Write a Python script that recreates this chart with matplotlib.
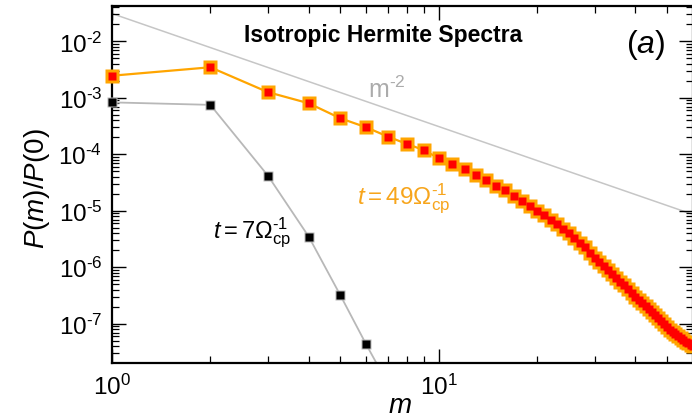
import matplotlib
matplotlib.use("Agg")
import numpy as np
import matplotlib.pyplot as plt
from matplotlib.ticker import FixedLocator, FuncFormatter, NullFormatter

plt.rcParams["font.family"] = ["Liberation Sans", "DejaVu Sans"]
plt.rcParams["mathtext.fontset"] = "custom"
plt.rcParams["mathtext.rm"] = "Liberation Sans"
plt.rcParams["mathtext.it"] = "Liberation Sans:italic"
plt.rcParams["mathtext.bf"] = "Liberation Sans:bold"

# Hermite spectrum at t = 7 / Omega_cp (early time)
m_early = [1, 2, 3, 4, 5, 6, 7]
p_early = [8.3e-4, 7.5e-4, 4.2e-5, 3.5e-6, 3.2e-7, 4.3e-8, 8.5e-9]

# Hermite spectrum at t = 49 / Omega_cp (late time)
m_late = list(range(1, 61))
p_late = [
    2.46e-3, 3.47e-3, 1.26e-3, 8.0e-4, 4.34e-4, 3.0e-4, 2.05e-4, 1.52e-4, 1.19e-4, 8.5e-5,
    6.7e-5, 5.4e-5, 4.3e-5, 3.55e-5, 2.8e-5, 2.3e-5, 1.86e-5, 1.48e-5, 1.2e-5, 1.0e-5,
    8.3e-6, 6.9e-6, 5.75e-6, 4.8e-6, 4.0e-6, 3.3e-6, 2.7e-6, 2.24e-6, 1.82e-6, 1.48e-6,
    1.26e-6, 1.05e-6, 8.9e-7, 7.6e-7, 6.5e-7, 5.6e-7, 4.8e-7, 4.1e-7, 3.5e-7, 3.0e-7,
    2.6e-7, 2.3e-7, 2.04e-7, 1.82e-7, 1.62e-7, 1.41e-7, 1.26e-7, 1.10e-7, 9.8e-8, 8.7e-8,
    7.9e-8, 7.2e-8, 6.6e-8, 6.0e-8, 5.5e-8, 5.1e-8, 4.8e-8, 4.5e-8, 4.2e-8, 4.0e-8,
]

# m^-2 reference slope, given by its two end points
guide_m = [1, 60]
guide_p = [0.031, 0.031 / 60**2]

# labelled decades
x_decades = [0, 1]
y_decades = [-7, -6, -5, -4, -3, -2]

x_range = (1, 60)
y_range = (10**-7.694, 10**-1.375)

fig = plt.figure(figsize=(6.92, 4.14), dpi=100)
ax = fig.add_axes([0.1618, 0.1208, 0.8396, 0.8623])
ax.set_xscale("log")
ax.set_yscale("log")
ax.set_xlim(*x_range)
ax.set_ylim(*y_range)

# reference power law
ax.plot(guide_m, guide_p, color="#c6c6c6", lw=1.1, zorder=1)

# early-time spectrum: grey halo squares under black squares
me = np.array(m_early)
pe = np.array(p_early)
ax.plot(me, pe, color="#b8b8b8", lw=1.3, zorder=2)
inside = pe >= y_range[0]
ax.plot(me[inside], pe[inside], ls="none", marker="s", ms=7.4, mfc="#b8b8b8",
        mec="none", clip_on=False, zorder=3)
ax.plot(me[inside], pe[inside], ls="none", marker="s", ms=5.2, mfc="black",
        mec="none", clip_on=False, zorder=3.5)

# late-time spectrum: orange halo squares under red squares
ml = np.array(m_late)
pl = np.array(p_late)
ax.plot(ml, pl, color="#ffa500", lw=1.6, zorder=4)
ax.plot(ml, pl, ls="none", marker="s", ms=9.6, mfc="#ffa500", mec="none",
        clip_on=False, zorder=5)
ax.plot(ml, pl, ls="none", marker="s", ms=6.4, mfc="#ff0000", mec="none",
        clip_on=False, zorder=6)

# axes styling
for side in ax.spines.values():
    side.set_linewidth(1.6)

def decade_label(v, pos):
    e = int(round(np.log10(v)))
    if e < 0:
        return r"$10^{\text{-}%d}$" % (-e)
    return r"$10^{%d}$" % e

def minor_positions(decades):
    lo, hi = decades[0] - 1, decades[-1] + 1
    return [k * 10.0**d for d in range(lo, hi + 1) for k in range(2, 10)]

ax.xaxis.set_major_locator(FixedLocator([10.0**d for d in x_decades]))
ax.yaxis.set_major_locator(FixedLocator([10.0**d for d in y_decades]))
ax.xaxis.set_minor_locator(FixedLocator(minor_positions(x_decades)))
ax.yaxis.set_minor_locator(FixedLocator(minor_positions(y_decades)))
for axis in (ax.xaxis, ax.yaxis):
    axis.set_major_formatter(FuncFormatter(decade_label))
    axis.set_minor_formatter(NullFormatter())

ax.tick_params(which="both", direction="in", top=True, right=True, labelsize=17.5)
ax.tick_params(which="major", length=10, width=1.0)
ax.tick_params(which="minor", length=5, width=0.9)
ax.tick_params(axis="y", pad=7)
ax.tick_params(axis="x", pad=8)

ax.set_xlabel(r"$m$", fontsize=20)
ax.xaxis.set_label_coords(0.496, -0.081)
ax.set_ylabel(r"$P(m)/P(0)$", fontsize=20)
ax.yaxis.set_label_coords(-0.103, 0.49)

# annotations
ax.text(0.4664, 0.9188, "Isotropic Hermite Spectra", transform=ax.transAxes,
        fontsize=16.5, fontweight="bold", ha="center", va="center")
ax.text(0.919, 0.8936, r"$(a)$", transform=ax.transAxes, fontsize=23,
        ha="center", va="center")
ax.text(0.4406, 0.745, r"$\mathrm{m}^{\text{-}2}$", transform=ax.transAxes, fontsize=18,
        color="#ababab", ha="left", va="baseline")
ax.text(0.4217, 0.4482, r"$t{=}49\mathit{\Omega}_{\mathrm{cp}}^{\text{-}1}$", transform=ax.transAxes,
        fontsize=17.5, color="#f7a51c", ha="left", va="baseline")
ax.text(0.1738, 0.353, r"$t{=}7\mathit{\Omega}_{\mathrm{cp}}^{\text{-}1}$", transform=ax.transAxes,
        fontsize=17, color="black", ha="left", va="baseline")

fig.savefig("out.png", dpi=100)
